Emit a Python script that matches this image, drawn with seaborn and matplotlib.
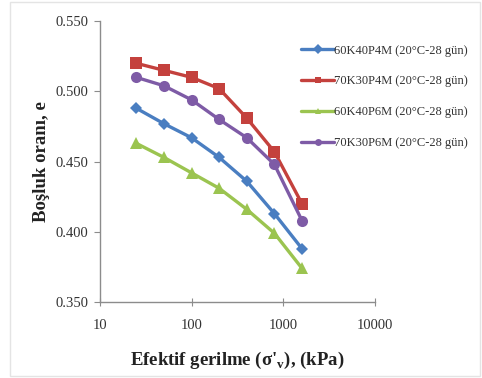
import matplotlib
matplotlib.use("Agg")
import matplotlib.pyplot as plt
import matplotlib.patches as mpatches
import pandas as pd
import seaborn as sns

# Consolidation data: effective stress vs void ratio
stress_kpa = [25, 50, 100, 200, 400, 800, 1600]
series_names = [
    "60K40P4M (20°C-28 gün)",
    "70K30P4M (20°C-28 gün)",
    "60K40P6M (20°C-28 gün)",
    "70K30P6M (20°C-28 gün)",
]
e_60k40p4m = [0.488, 0.477, 0.467, 0.453, 0.436, 0.413, 0.388]
e_70k30p4m = [0.520, 0.515, 0.510, 0.502, 0.481, 0.457, 0.420]
e_60k40p6m = [0.463, 0.453, 0.442, 0.431, 0.416, 0.399, 0.374]
e_70k30p6m = [0.510, 0.504, 0.494, 0.480, 0.467, 0.448, 0.408]
y_ticks = [0.350, 0.400, 0.450, 0.500, 0.550]
x_ticks = [10, 100, 1000, 10000]

colors = ["#4A7EC1", "#C4413D", "#9BC450", "#7E5BA6"]
marker_list = ["D", "s", "^", "o"]
marker_sizes = [6, 8, 8, 8]

frames = []
for name, vals in zip(series_names,
                      [e_60k40p4m, e_70k30p4m, e_60k40p6m, e_70k30p6m]):
    frames.append(pd.DataFrame({"stress": stress_kpa, "e": vals, "seri": name}))
df = pd.concat(frames, ignore_index=True)

sns.set_style("white")
plt.rcParams["font.family"] = ["Liberation Serif", "DejaVu Serif"]

fig = plt.figure(figsize=(4.82, 3.78), dpi=100)
ax = fig.add_axes([0.207, 0.201, 0.571, 0.743])

sns.lineplot(data=df, x="stress", y="e", hue="seri", style="seri",
             hue_order=series_names, style_order=series_names,
             palette=colors, markers=marker_list, dashes=False,
             linewidth=2.4, markersize=8, markeredgewidth=0,
             ax=ax, legend=True)

for line, ms in zip(ax.lines, marker_sizes):
    line.set_markersize(ms)

ax.set_xscale("log")
ax.set_xlim(10, 10000)
ax.set_ylim(0.350, 0.550)
ax.set_xticks(x_ticks)
ax.set_xticklabels([str(t) for t in x_ticks])
ax.set_yticks(y_ticks)
ax.set_yticklabels([f"{t:.3f}" for t in y_ticks])
ax.minorticks_off()

for side in ["top", "right"]:
    ax.spines[side].set_visible(False)
for side in ["left", "bottom"]:
    ax.spines[side].set_color("#8c8c8c")
    ax.spines[side].set_linewidth(1.0)

ax.tick_params(axis="y", direction="out", length=4, color="#8c8c8c",
               labelsize=10.5, labelcolor="#333333", left=True, pad=4)
ax.tick_params(axis="x", direction="inout", length=6, color="#8c8c8c",
               labelsize=10.5, labelcolor="#333333", bottom=True, pad=9)

ax.set_xlabel("Efektif gerilme (σ'$_\\mathregular{v}$), (kPa)",
              fontsize=13.5, fontweight="bold", color="#222222", labelpad=13)
ax.set_ylabel("Boşluk oranı, e", fontsize=13.5, fontweight="bold",
              color="#222222", labelpad=4)

handles, labels = ax.get_legend_handles_labels()
for h in handles:
    h.set_markersize(5)
leg = ax.legend(handles, labels, loc="upper left",
                bbox_to_anchor=(0.615, 0.895), bbox_transform=fig.transFigure,
                frameon=False, fontsize=9, labelspacing=1.5,
                handlelength=2.6, handletextpad=0.0, borderaxespad=0)
for t in leg.get_texts():
    t.set_color("#333333")

# Chart area border
fig.patches.append(mpatches.Rectangle((0.02, 0.005), 0.975, 0.99,
                                      transform=fig.transFigure,
                                      fill=False, edgecolor="#e4e4e4",
                                      linewidth=1.0))

fig.savefig("out.png", dpi=100)
